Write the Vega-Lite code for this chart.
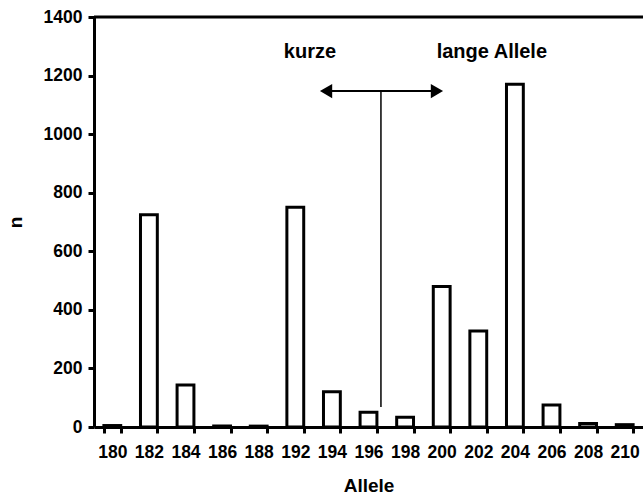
{
  "$schema": "https://vega.github.io/schema/vega-lite/v6.json",
  "width": 549,
  "height": 410,
  "autosize": {"type": "none"},
  "padding": {"left": 94, "top": 17, "right": 0, "bottom": 74},
  "background": "white",
  "config": {
    "view": {"stroke": null},
    "font": "Liberation Sans",
    "axis": {
      "domainColor": "black", "domainWidth": 3, "tickColor": "black", "tickWidth": 3, "tickSize": 6,
      "labelFont": "Liberation Sans", "labelFontWeight": "bold", "labelFontSize": 17.5, "labelColor": "black",
      "titleFont": "Liberation Sans", "titleFontWeight": "bold", "titleFontSize": 19, "titleColor": "black",
      "grid": false
    }
  },
  "layer": [
    {
      "data": {"values": [
        {"Allele": "180", "n": 5}, {"Allele": "182", "n": 725}, {"Allele": "184", "n": 143},
        {"Allele": "186", "n": 3}, {"Allele": "188", "n": 3}, {"Allele": "192", "n": 750},
        {"Allele": "194", "n": 120}, {"Allele": "196", "n": 50}, {"Allele": "198", "n": 33},
        {"Allele": "200", "n": 480}, {"Allele": "202", "n": 328}, {"Allele": "204", "n": 1170},
        {"Allele": "206", "n": 75}, {"Allele": "208", "n": 12}, {"Allele": "210", "n": 8}
      ]},
      "mark": {"type": "bar", "fill": "white", "stroke": "black", "strokeWidth": 3},
      "encoding": {
        "x": {"field": "Allele", "type": "nominal", "sort": null,
              "scale": {"paddingInner": 0.54, "paddingOuter": 0.27},
              "axis": {"title": "Allele", "labelAngle": 0, "tickBand": "extent", "labelPadding": 10, "titlePadding": 16}},
        "y": {"field": "n", "type": "quantitative",
              "scale": {"domain": [0, 1400], "nice": false},
              "axis": {"title": "n", "format": "d", "values": [0, 200, 400, 600, 800, 1000, 1200, 1400], "labelPadding": 6, "titlePadding": 18}}
      }
    },
    {
      "data": {"values": [{"from": 0, "to": 15, "level": 1400}]},
      "mark": {"type": "rule", "color": "black", "strokeWidth": 3},
      "encoding": {
        "x": {"field": "from", "type": "quantitative", "scale": {"domain": [0, 15], "nice": false, "zero": false}, "axis": null},
        "x2": {"field": "to"},
        "y": {"field": "level", "type": "quantitative"}
      }
    },
    {
      "data": {"values": [{"from": 6.3, "to": 9.4, "level": 1147}]},
      "mark": {"type": "rule", "color": "black", "strokeWidth": 2},
      "encoding": {
        "x": {"field": "from", "type": "quantitative", "scale": {"domain": [0, 15], "nice": false, "zero": false}, "axis": null},
        "x2": {"field": "to"},
        "y": {"field": "level", "type": "quantitative"}
      }
    },
    {
      "data": {"values": [{"pos": 7.84, "top": 1147, "bottom": 68}]},
      "mark": {"type": "rule", "color": "black", "strokeWidth": 1.5},
      "encoding": {
        "x": {"field": "pos", "type": "quantitative", "scale": {"domain": [0, 15], "nice": false, "zero": false}, "axis": null},
        "y": {"field": "top", "type": "quantitative"},
        "y2": {"field": "bottom"}
      }
    },
    {
      "data": {"values": [{"pos": 6.34, "level": 1147, "dir": "triangle-left"}, {"pos": 9.37, "level": 1147, "dir": "triangle-right"}]},
      "mark": {"type": "point", "filled": true, "color": "black", "size": 200, "opacity": 1},
      "encoding": {
        "x": {"field": "pos", "type": "quantitative", "scale": {"domain": [0, 15], "nice": false, "zero": false}, "axis": null},
        "y": {"field": "level", "type": "quantitative"},
        "shape": {"field": "dir", "type": "nominal", "scale": {"domain": ["triangle-left", "triangle-right"], "range": ["triangle-left", "triangle-right"]}, "legend": null}
      }
    },
    {
      "data": {"values": [{"label": "kurze", "pos": 5.9, "level": 1280}, {"label": "lange Allele", "pos": 10.87, "level": 1280}]},
      "mark": {"type": "text", "font": "Liberation Sans", "fontWeight": "bold", "fontSize": 20, "color": "black", "baseline": "middle", "align": "center"},
      "encoding": {
        "x": {"field": "pos", "type": "quantitative", "scale": {"domain": [0, 15], "nice": false, "zero": false}, "axis": null},
        "y": {"field": "level", "type": "quantitative"},
        "text": {"field": "label"}
      }
    }
  ],
  "resolve": {"scale": {"x": "independent"}}
}
